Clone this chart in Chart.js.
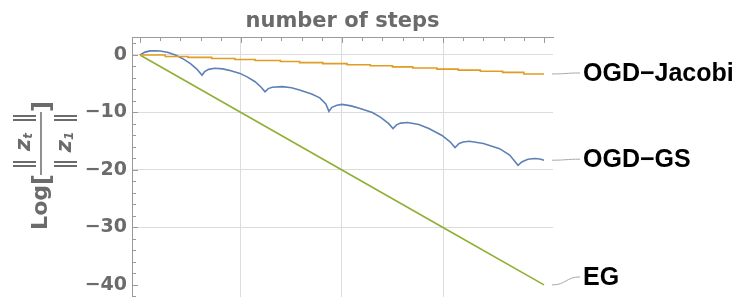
<!DOCTYPE html>
<html>
<head>
<meta charset="utf-8">
<script src="https://cdn.jsdelivr.net/npm/chart.js@4/dist/chart.umd.min.js"></script>
<style>
  html, body { margin: 0; padding: 0; background: #fff; }
  canvas { display: block; }
</style>
</head>
<body>
<canvas id="c" width="738" height="297"></canvas>
<script>
/* Convergence plot: log of ||z_t|| / ||z_1|| against number of steps,
   three methods, direct labels on the right. */

const seriesNames = ['OGD\u2212Jacobi', 'OGD\u2212GS', 'EG'];

// y axis labelled ticks, x grid positions
const yTicks = [-40, -30, -20, -10, 0];
const xGrid = [100, 200, 300];

// EG: straight decay
const egSteps = [0, 100, 200, 300, 400];
const egValues = [0, -10, -20, -30, -40];

// OGD-Jacobi: slow staircase
const jacobiSteps = [0, 25, 47.5, 71, 94, 114, 139, 158, 181, 205, 228, 250, 270, 294, 315, 337, 359, 380, 400];
const jacobiValues = [0, -0.25, -0.42, -0.6, -0.78, -0.95, -1.13, -1.32, -1.5, -1.7, -1.88, -2.07, -2.26, -2.45, -2.64, -2.83, -3.02, -3.3, -3.3];

// OGD-GS: scalloped decay with cusps
const gsSteps = [
  0, 5, 10, 15, 20, 28, 35, 42, 50, 56, 61.4,
  64, 68, 74, 82, 90, 99, 106, 114, 120, 123.8,
  127, 131, 141, 150, 158, 170, 178, 184, 187.1,
  190, 195, 200, 209, 218, 230, 238, 246, 250.5,
  254, 258, 265, 276, 286, 299, 307, 311.9,
  316, 320, 326, 340, 356, 366, 374.3,
  378, 384, 391, 396, 400
];
const gsValues = [
  0, 0.5, 0.72, 0.75, 0.7, 0.45, 0, -0.6, -1.5, -2.4, -3.5,
  -2.9, -2.5, -2.3, -2.42, -2.75, -3.2, -3.8, -4.65, -5.6, -6.4,
  -5.85, -5.6, -5.5, -5.7, -6.1, -6.8, -7.45, -8.5, -9.8,
  -9.1, -8.75, -8.6, -8.85, -9.3, -10.0, -10.8, -11.9, -12.8,
  -12.15, -11.85, -11.75, -12.1, -12.8, -14.0, -15.1, -16.1,
  -15.4, -15.15, -15.0, -15.4, -16.3, -17.4, -19.2,
  -18.6, -18.15, -18.0, -18.1, -18.3
];

const COLORS = {
  jacobi: '#e19c24',
  gs: '#5e81b5',
  eg: '#8fb032',
  grid: '#dcdcdc',
  axis: '#9a9a9a',
  label: '#6b6b6b',
  leader: '#a8a8a8',
};

function points(xs, ys) { return xs.map((x, i) => ({ x, y: ys[i] })); }

function minusLabel(v) { return v < 0 ? '\u2212' + Math.abs(v) : String(v); }

// norm delimiter: two parallel strokes (rotated frame)
function drawBars(ctx, u, baseline) {
  ctx.beginPath();
  ctx.moveTo(u, baseline - 17); ctx.lineTo(u, baseline + 6);
  ctx.moveTo(u + 4, baseline - 17); ctx.lineTo(u + 4, baseline + 6);
  ctx.stroke();
}

// draws one "||z_sub||" group centred at uCenter along the rotated baseline
function drawNorm(ctx, sub, uCenter, baseline) {
  const ital = 'italic bold 21px "DejaVu Sans"';
  const small = 'italic bold 12px "DejaVu Sans"';
  ctx.lineWidth = 2;
  drawBars(ctx, uCenter - 25, baseline);
  drawBars(ctx, uCenter + 21, baseline);
  ctx.font = ital; const wZ = ctx.measureText('z').width;
  ctx.font = small; const wS = ctx.measureText(sub).width;
  let u = uCenter - (wZ + wS) / 2 - 1;
  ctx.font = ital; ctx.fillText('z', u, baseline); u += wZ;
  ctx.font = small; ctx.fillText(sub, u, baseline + 2);
}

function drawYTitle(ctx) {
  ctx.save();
  ctx.translate(41, 168);
  ctx.rotate(-Math.PI / 2);
  ctx.fillStyle = COLORS.label;
  ctx.strokeStyle = COLORS.label;
  ctx.textBaseline = 'alphabetic';
  ctx.textAlign = 'left';

  ctx.font = 'bold 22px "DejaVu Sans"';
  const wLog = ctx.measureText('Log').width;
  ctx.fillText('Log', -17 - wLog, 6);

  ctx.font = 'bold 24px "DejaVu Sans"';
  ctx.fillText('[', -17, 9);
  ctx.fillText(']', 56, 9);

  ctx.lineWidth = 1.5;
  ctx.beginPath();
  ctx.moveTo(-7, 0);
  ctx.lineTo(56, 0);
  ctx.stroke();

  drawNorm(ctx, 't', 27, -11);
  drawNorm(ctx, '1', 27, 30);
  ctx.restore();
}

const frameDecor = {
  id: 'frameDecor',
  afterDraw(chart) {
    const { ctx, chartArea: a, scales: { x, y } } = chart;
    ctx.save();

    // inward tick marks on the top and left frame
    ctx.strokeStyle = COLORS.axis;
    ctx.lineWidth = 1;
    ctx.beginPath();
    for (let v = 0; v <= 400; v += 20) {
      const px = Math.round(x.getPixelForValue(v)) + 0.5;
      const len = v % 100 === 0 ? 6 : 4;
      ctx.moveTo(px, a.top);
      ctx.lineTo(px, a.top + len);
    }
    for (let v = -42; v <= 2; v += 2) {
      const py = Math.round(y.getPixelForValue(v)) + 0.5;
      const len = v % 10 === 0 ? 6 : 4;
      ctx.moveTo(a.left, py);
      ctx.lineTo(a.left + len, py);
    }
    ctx.stroke();

    drawYTitle(ctx);

    // direct labels with leader lines
    const ends = [
      jacobiValues[jacobiValues.length - 1],
      gsValues[gsValues.length - 1],
      egValues[egValues.length - 1],
    ];
    const textDy = [-1, -1, -8];
    ctx.strokeStyle = COLORS.leader;
    ctx.lineWidth = 1;
    ctx.fillStyle = '#000';
    ctx.font = 'bold 25px "Liberation Sans", Arial, sans-serif';
    ctx.textBaseline = 'middle';
    ctx.textAlign = 'left';
    ends.forEach((v, i) => {
      const y0 = y.getPixelForValue(v);
      const y1 = y0 + textDy[i];
      const x0 = a.right - 1, x1 = a.right + 27;
      ctx.beginPath();
      ctx.moveTo(x0, y0);
      ctx.bezierCurveTo(x0 + 14, y0, x1 - 14, y1, x1, y1);
      ctx.stroke();
      ctx.fillText(seriesNames[i], a.right + 30, y1 + 1);
    });

    ctx.restore();
  },
};

new Chart(document.getElementById('c'), {
  type: 'line',
  data: {
    datasets: [
      { label: seriesNames[0], data: points(jacobiSteps, jacobiValues), borderColor: COLORS.jacobi, borderWidth: 1.6, stepped: true, pointRadius: 0 },
      { label: seriesNames[1], data: points(gsSteps, gsValues), borderColor: COLORS.gs, borderWidth: 1.6, tension: 0, pointRadius: 0 },
      { label: seriesNames[2], data: points(egSteps, egValues), borderColor: COLORS.eg, borderWidth: 1.6, pointRadius: 0 },
    ],
  },
  options: {
    responsive: false,
    animation: false,
    layout: { padding: { left: 0, right: 185, top: 0, bottom: 0 } },
    plugins: { legend: { display: false }, tooltip: { enabled: false } },
    scales: {
      x: {
        type: 'linear', position: 'top', min: -7.9, max: 408.9,
        afterBuildTicks: (s) => { s.ticks = xGrid.map(v => ({ value: v })); },
        afterFit: (s) => { s.height = 37; s.paddingLeft = 0; s.paddingRight = 0; },
        ticks: { display: false },
        grid: { color: COLORS.grid, drawTicks: false },
        border: { color: COLORS.axis },
        title: {
          display: true, text: 'number of steps', color: COLORS.label,
          font: { family: 'DejaVu Sans', size: 21, weight: 'bold' },
          padding: { top: 9, bottom: 0 },
        },
      },
      y: {
        type: 'linear', min: -42.1, max: 3.13,
        afterBuildTicks: (s) => { s.ticks = yTicks.map(v => ({ value: v })); },
        afterFit: (s) => { s.width = 132; s.paddingTop = 0; s.paddingBottom = 0; },
        ticks: {
          color: COLORS.label, padding: 5,
          font: { family: 'DejaVu Sans', size: 19, weight: 'bold' },
          callback: (v) => minusLabel(v),
        },
        grid: {
          color: (c) => (c.tick && c.tick.value === -40 ? 'rgba(0,0,0,0)' : COLORS.grid),
          drawTicks: false,
        },
        border: { color: COLORS.axis },
      },
    },
  },
  plugins: [frameDecor],
});
</script>
</body>
</html>
